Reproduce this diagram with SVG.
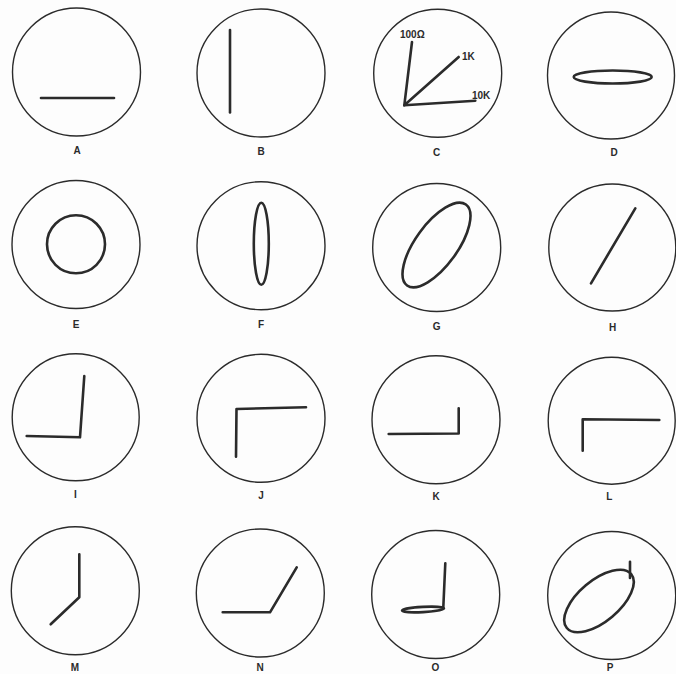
<svg xmlns="http://www.w3.org/2000/svg" width="676" height="674" viewBox="0 0 676 674">
<style>
.scope{fill:none;stroke:#2b2b2b;stroke-width:1.4}
.tr{fill:none;stroke:#2b2b2b;stroke-width:2.6;stroke-linecap:round;stroke-linejoin:round}
.lbl{font-family:"Liberation Sans",Arial,sans-serif;font-weight:bold;font-size:10px;fill:#2b2b2b;text-anchor:middle}
.ct{font-family:"Liberation Sans",Arial,sans-serif;font-weight:bold;font-size:10px;fill:#2b2b2b}
</style>
<rect width="676" height="674" fill="#fdfdfd"/>
<g id="A"><circle class="scope" cx="76.5" cy="72" r="64"/><line class="tr" x1="41" y1="98" x2="114" y2="98"/><text class="lbl" x="77" y="154">A</text></g>
<g id="B"><circle class="scope" cx="261" cy="73" r="64"/><line class="tr" x1="230" y1="30" x2="230" y2="112.5"/><text class="lbl" x="261" y="155">B</text></g>
<g id="C"><circle class="scope" cx="437.7" cy="73.3" r="64"/>
<polyline class="tr" points="412,42 404.3,105.3 458.7,57"/><line class="tr" x1="404.3" y1="105.3" x2="475.3" y2="100.7"/>
<text class="ct" x="400" y="38" font-size="9.5">100Ω</text><text class="ct" x="462" y="60" font-size="9.5">1K</text><text class="ct" x="472" y="99" font-size="9.5">10K</text>
<text class="lbl" x="436.7" y="156">C</text></g>
<g id="D"><circle class="scope" cx="611" cy="75.5" r="63.5"/><ellipse class="tr" cx="612.7" cy="77" rx="39" ry="6.5"/><text class="lbl" x="614" y="156">D</text></g>
<g id="E"><circle class="scope" cx="76" cy="244.5" r="64"/><circle class="tr" cx="76" cy="244.3" r="29"/><text class="lbl" x="76" y="328">E</text></g>
<g id="F"><circle class="scope" cx="261" cy="245.7" r="64"/><ellipse class="tr" cx="261.3" cy="243.7" rx="7.5" ry="41"/><text class="lbl" x="261" y="328">F</text></g>
<g id="G"><circle class="scope" cx="436.7" cy="247.5" r="64"/><ellipse class="tr" cx="436.5" cy="245" rx="50" ry="21" transform="rotate(-54 436.5 245)"/><text class="lbl" x="436.7" y="330">G</text></g>
<g id="H"><circle class="scope" cx="612.3" cy="247.5" r="63.5"/><line class="tr" x1="591" y1="283.3" x2="635.3" y2="208.3"/><text class="lbl" x="612.7" y="331">H</text></g>
<g id="I"><circle class="scope" cx="75.7" cy="417.3" r="63.5"/><polyline class="tr" points="84.3,376 80,437.3 26.7,436"/><text class="lbl" x="75.3" y="498">I</text></g>
<g id="J"><circle class="scope" cx="261" cy="418.3" r="64"/><polyline class="tr" points="236,456.7 236.5,409 306,407.3"/><text class="lbl" x="261" y="499">J</text></g>
<g id="K"><circle class="scope" cx="436" cy="419.7" r="64"/><polyline class="tr" points="388.7,434 458.7,433.5 458.7,408.3"/><text class="lbl" x="436" y="500">K</text></g>
<g id="L"><circle class="scope" cx="611.7" cy="420.7" r="63.5"/><polyline class="tr" points="582.7,450.7 582.7,419.3 659.3,420"/><text class="lbl" x="609.3" y="500">L</text></g>
<g id="M"><circle class="scope" cx="75.3" cy="590.8" r="64"/><polyline class="tr" points="79.3,554.3 79.3,597.3 50.7,624.3"/><text class="lbl" x="75" y="671">M</text></g>
<g id="N"><circle class="scope" cx="260.3" cy="593" r="64"/><polyline class="tr" points="222.7,612.3 270,612.3 296.7,567.3"/><text class="lbl" x="260" y="671">N</text></g>
<g id="O"><circle class="scope" cx="435.7" cy="594.5" r="64"/><polyline class="tr" points="445.3,563.3 443.3,607.5"/><ellipse class="tr" cx="423" cy="609.5" rx="21" ry="2.6" stroke-width="3.4" transform="rotate(-3 423 609.5)"/><text class="lbl" x="435.3" y="671">O</text></g>
<g id="P"><circle class="scope" cx="611.7" cy="595.5" r="64"/><ellipse class="tr" cx="599" cy="601" rx="42" ry="20.5" transform="rotate(-40 599 601)"/><line class="tr" x1="630" y1="561.7" x2="630" y2="578"/><text class="lbl" x="610" y="671">P</text></g>
</svg>
